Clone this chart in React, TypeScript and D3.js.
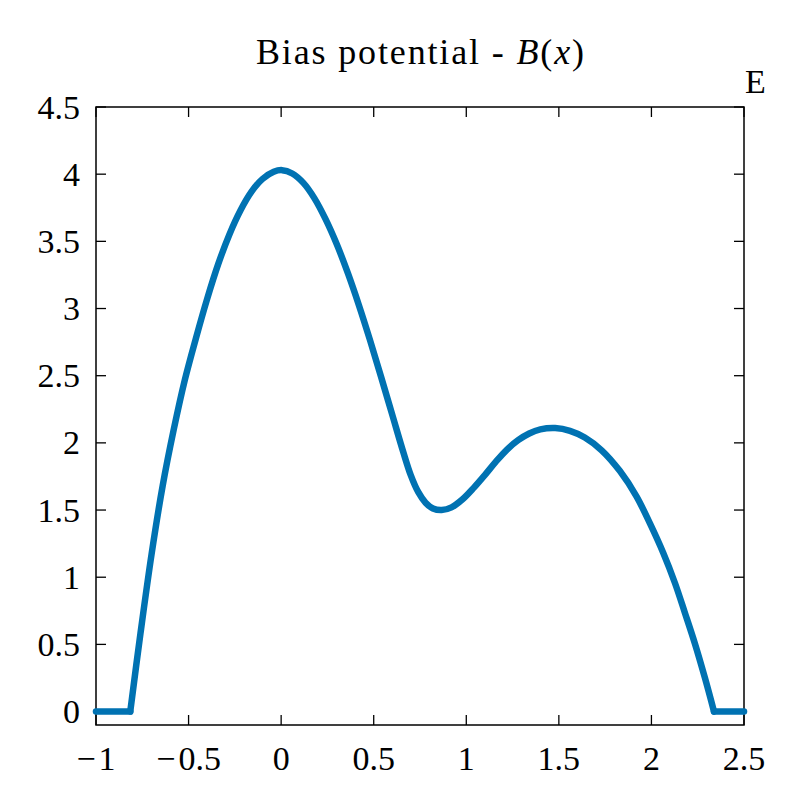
import React from "react";
import * as d3 from "d3";

const xValues = [
  -0.815, -0.76, -0.7, -0.64, -0.58, -0.52, -0.46, -0.4, -0.34, -0.28, -0.22, -0.16, -0.1, -0.04, 0.005,
  0.06, 0.12, 0.18, 0.24, 0.3, 0.36, 0.42, 0.48, 0.54, 0.6, 0.66, 0.7, 0.74, 0.78, 0.82, 0.867,
  0.92, 0.98, 1.04, 1.1, 1.16, 1.22, 1.28, 1.34, 1.4, 1.48, 1.56, 1.64, 1.731, 1.83, 1.92, 1.992,
  2.064, 2.127, 2.181, 2.235, 2.289, 2.338,
];
const yValues = [
  0, 0.58, 1.17, 1.68, 2.1, 2.47, 2.78, 3.07, 3.33, 3.55, 3.73, 3.87, 3.965, 4.018, 4.03,
  4.005, 3.935, 3.82, 3.665, 3.48, 3.265, 3.025, 2.765, 2.49, 2.21, 1.93, 1.76, 1.635, 1.555, 1.512, 1.5,
  1.52, 1.58, 1.665, 1.76, 1.86, 1.95, 2.02, 2.07, 2.1, 2.11, 2.09, 2.04, 1.945, 1.79, 1.6, 1.4,
  1.18, 0.957, 0.734, 0.505, 0.25, 0,
];
const flatLeft = [-1, -0.815];
const flatRight = [2.338, 2.5];
const xTicks = [-1, -0.5, 0, 0.5, 1, 1.5, 2, 2.5];
const yTicks = [0, 0.5, 1, 1.5, 2, 2.5, 3, 3.5, 4, 4.5];

const W = 797;
const H = 797;
const L = 96, R = 744, T = 107, B = 725;
const FONT = "'Liberation Serif', 'DejaVu Serif', serif";
const COLOR = "#0072b2";
const FS = 34;

function Label({ v, x, y, anchor }: { v: number; x: number; y: number; anchor: "middle" | "end" }) {
  const s = String(Math.abs(v));
  return (
    <text x={x} y={y} textAnchor={anchor} fontFamily={FONT} fontSize={FS}>
      {v < 0 ? <tspan letterSpacing={3}>{"\u2212"}</tspan> : null}
      {s}
    </text>
  );
}

export default function App() {
  const x = d3.scaleLinear().domain([-1, 2.5]).range([L, R]);
  const y = d3.scaleLinear().domain([-0.1, 4.5]).range([B, T]);
  const pts: [number, number][] = xValues.map((v, i) => [v, yValues[i]]);
  const curve = d3
    .line<[number, number]>()
    .x((d) => x(d[0]))
    .y((d) => y(d[1]))
    .curve(d3.curveCatmullRom.alpha(0.5))(pts) as string;
  const flat = d3
    .line<number>()
    .x((d) => x(d))
    .y(() => y(0));
  const tickLen = 10;
  return (
    <svg width={W} height={H} style={{ position: "absolute", left: 0, top: 0 }}>
      <rect x={0} y={0} width={W} height={H} fill="white" />
      <text
        x={(L + R) / 2}
        y={64}
        textAnchor="middle"
        fontFamily={FONT}
        fontSize={36}
        textLength={328}
        lengthAdjust="spacing"
      >
        Bias potential - <tspan fontStyle="italic">B</tspan>(<tspan fontStyle="italic">x</tspan>)
      </text>
      <text x={745} y={93} fontFamily={FONT} fontSize={FS}>E</text>
      {xTicks.map((t) => (
        <g key={"x" + t}>
          <line x1={x(t)} x2={x(t)} y1={B} y2={B - tickLen} stroke="black" strokeWidth={1.3} />
          <line x1={x(t)} x2={x(t)} y1={T} y2={T + tickLen} stroke="black" strokeWidth={1.3} />
          <Label v={t} x={x(t)} y={770} anchor="middle" />
        </g>
      ))}
      {yTicks.map((t) => (
        <g key={"y" + t}>
          <line x1={L} x2={L + tickLen} y1={y(t)} y2={y(t)} stroke="black" strokeWidth={1.3} />
          <line x1={R} x2={R - tickLen} y1={y(t)} y2={y(t)} stroke="black" strokeWidth={1.3} />
          <Label v={t} x={80} y={y(t) + 11.5} anchor="end" />
        </g>
      ))}
      <rect x={L} y={T} width={R - L} height={B - T} fill="none" stroke="black" strokeWidth={1.5} />
      <path d={flat(flatLeft) as string} fill="none" stroke={COLOR} strokeWidth={6.5} strokeLinecap="round" />
      <path d={flat(flatRight) as string} fill="none" stroke={COLOR} strokeWidth={6.5} strokeLinecap="round" />
      <path d={curve} fill="none" stroke={COLOR} strokeWidth={6.5} strokeLinecap="round" strokeLinejoin="round" />
    </svg>
  );
}
